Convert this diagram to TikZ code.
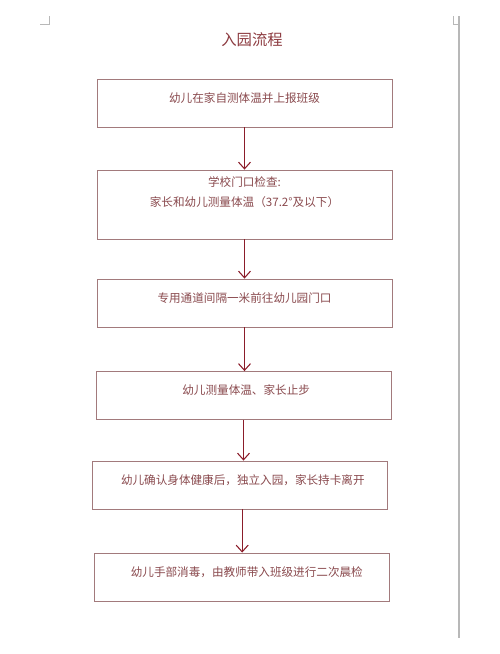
\documentclass[tikz,border=0pt]{standalone}
\usepackage{fontspec}
\usepackage{xcolor}
\usepackage{tikz}
\usetikzlibrary{arrows.meta,positioning,calc}
\newfontfamily\cjk{Noto Sans CJK SC}
\definecolor{flowtext}{HTML}{8A4A4E}
\definecolor{flowtitle}{HTML}{8C3A3F}
\definecolor{flowline}{HTML}{A27A7C}
\definecolor{flowarrow}{HTML}{8B1D2A}
\definecolor{pagegray}{HTML}{B8B8B8}
\tikzset{
  stepbox/.style={draw=flowline, line width=.6pt, fill=white, minimum width=221.25pt, inner sep=0pt},
  steptext/.style={font=\cjk\fontsize{8.7pt}{15pt}\selectfont, text=flowtext, align=center, inner sep=0pt},
  ttl/.style={font=\cjk\fontsize{11.5pt}{14pt}\selectfont, text=flowtitle, inner sep=0pt},
  ar/.style={-{Straight Barb[length=5pt,width=9pt,line width=.8pt]}, line width=.8pt, draw=flowarrow},
  marks/.style={draw=pagegray, line width=.6pt},
}
\begin{document}
\begin{tikzpicture}[x=0.75pt, y=-0.75pt]
    \useasboundingbox (0,0) rectangle (500,654);
    % page corners
    \draw[marks] (40,24) -- (49.5,24) -- (49.5,16);
    \draw[marks] (453,16) -- (453,24) -- (459,24);
    \draw[draw=pagegray, line width=1.1pt] (459,16) -- (459,638);
    \node[ttl] (title) at (252,40) {入园流程};
    % steps
    \node[stepbox, minimum height=36pt] (b1) at (244.5,103) {};
    \node[stepbox, minimum height=51.75pt] (b2) at (244.5,204.5) {};
    \node[stepbox, minimum height=36pt] (b3) at (244.5,303) {};
    \node[stepbox, minimum height=36pt] (b4) at (243.5,395.5) {};
    \node[stepbox, minimum height=36pt] (b5) at (239.5,485) {};
    \node[stepbox, minimum height=36pt] (b6) at (241.5,577) {};
    \node[steptext] (t1) at ([yshift=-14.25pt]b1.north) {幼儿在家自测体温并上报班级};
    \node[steptext] (t2) at ([yshift=-17.25pt]b2.north) {学校门口检查:\\家长和幼儿测量体温（37.2°及以下）};
    \node[steptext] (t3) at ([yshift=-14.25pt]b3.north) {专用通道间隔一米前往幼儿园门口};
    \node[steptext] (t4) at ([xshift=2pt,yshift=-14.25pt]b4.north) {幼儿测量体温、家长止步};
    \node[steptext] (t5) at ([xshift=2.5pt,yshift=-15pt]b5.north) {幼儿确认身体健康后，独立入园，家长持卡离开};
    \node[steptext] (t6) at ([xshift=4pt,yshift=-15pt]b6.north) {幼儿手部消毒，由教师带入班级进行二次晨检};
    \draw[ar] (b1.south) -- (b1.south |- b2.north);
    \draw[ar] (b2.south) -- (b2.south |- b3.north);
    \draw[ar] (b3.south) -- (b3.south |- b4.north);
    \draw[ar] (b4.south) -- (b4.south |- b5.north);
    \draw[ar] ([xshift=2pt]b5.south) -- ([xshift=2pt]b5.south |- b6.north);
\end{tikzpicture}
\end{document}
